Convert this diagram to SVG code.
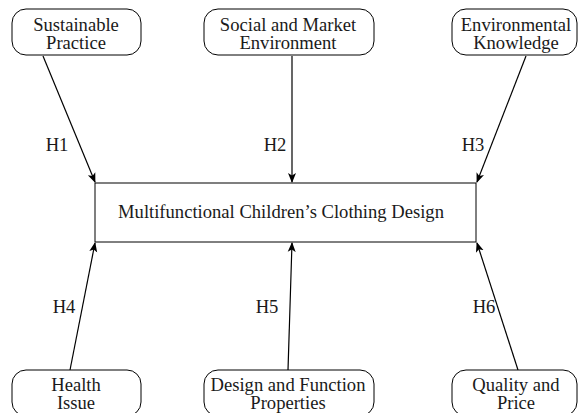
<svg xmlns="http://www.w3.org/2000/svg" width="578" height="413" viewBox="0 0 578 413" font-family="'Liberation Serif', 'DejaVu Serif', serif">
<defs>
<style>
.node{fill:#fff;stroke:#000;stroke-width:1}
.t{font-family:"Liberation Serif","DejaVu Serif",serif;font-size:18.6px;fill:#1a1a1a;text-anchor:middle}
.edge{stroke:#000;stroke-width:1.2;fill:none;marker-end:url(#ah)}
</style>
<marker id="ah" viewBox="0 0 10 10" refX="9" refY="5" markerWidth="10" markerHeight="10" markerUnits="userSpaceOnUse" orient="auto">
<path d="M0,1 L10,5 L0,9 L2.5,5 Z" fill="#000"/>
</marker>
</defs>
<rect width="578" height="413" fill="#fff"/>
<g id="connectors">
<line class="edge" x1="43" y1="56" x2="95" y2="182"/>
<line class="edge" x1="292" y1="56" x2="292" y2="182"/>
<line class="edge" x1="526" y1="56" x2="477" y2="182"/>
<line class="edge" x1="70" y1="370" x2="95" y2="243"/>
<line class="edge" x1="288" y1="370" x2="292" y2="243"/>
<line class="edge" x1="518" y1="370" x2="477" y2="243"/>
<text x="57" y="151" class="t">H1</text>
<text x="275" y="151" class="t">H2</text>
<text x="473" y="151" class="t">H3</text>
<text x="64" y="313" class="t">H4</text>
<text x="267" y="313" class="t">H5</text>
<text x="484" y="313" class="t">H6</text>
</g>
<g id="main">
<rect class="node" x="95" y="183" width="381" height="59"/>
<text x="281" y="218" class="t">Multifunctional Children’s Clothing Design</text>
</g>
<g id="n1">
<rect class="node" x="12" y="9" width="129" height="46" rx="14"/>
<text class="t"><tspan x="76" y="31">Sustainable</tspan><tspan x="76" y="49">Practice</tspan></text>
</g>
<g id="n2">
<rect class="node" x="204" y="9" width="170" height="46" rx="14"/>
<text class="t"><tspan x="288" y="31">Social and Market</tspan><tspan x="288" y="49">Environment</tspan></text>
</g>
<g id="n3">
<rect class="node" x="452" y="9" width="125" height="46" rx="14"/>
<text class="t"><tspan x="516" y="31">Environmental</tspan><tspan x="516" y="49">Knowledge</tspan></text>
</g>
<g id="n4">
<rect class="node" x="12" y="370" width="129" height="46" rx="14"/>
<text class="t"><tspan x="76" y="391">Health</tspan><tspan x="76" y="409">Issue</tspan></text>
</g>
<g id="n5">
<rect class="node" x="204" y="370" width="170" height="46" rx="14"/>
<text class="t"><tspan x="288" y="391">Design and Function</tspan><tspan x="288" y="409">Properties</tspan></text>
</g>
<g id="n6">
<rect class="node" x="452" y="370" width="125" height="46" rx="14"/>
<text class="t"><tspan x="516" y="391">Quality and</tspan><tspan x="516" y="409">Price</tspan></text>
</g>
</svg>
